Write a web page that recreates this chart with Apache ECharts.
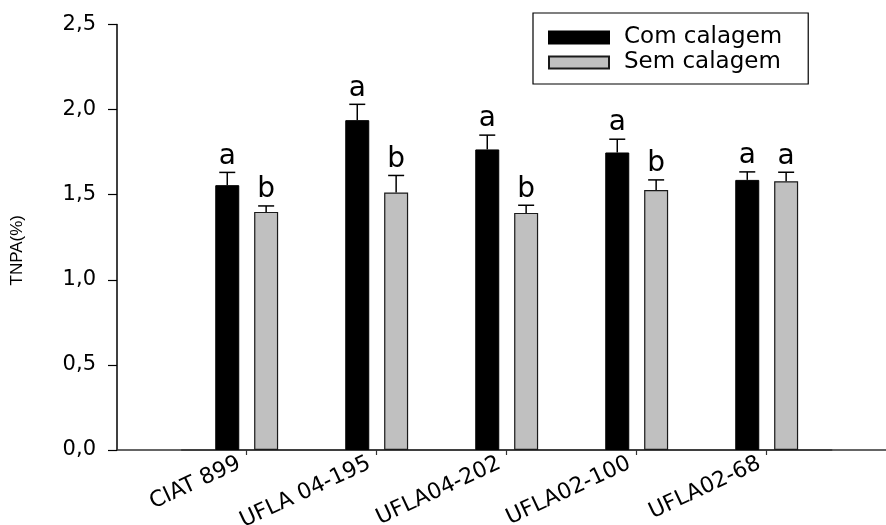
<!DOCTYPE html>
<html>
<head>
<meta charset="utf-8">
<script src="https://cdn.jsdelivr.net/npm/echarts@6/dist/echarts.min.js"></script>
<style>
  html, body { margin: 0; padding: 0; background: #fff; }
  #chart { width: 886px; height: 525px; }
</style>
</head>
<body>
<div id="chart"></div>
<script>
const categories = ['CIAT 899', 'UFLA 04-195', 'UFLA04-202', 'UFLA02-100', 'UFLA02-68'];
const comValues = [1.556, 1.938, 1.766, 1.748, 1.587];
const comErrors = [0.075, 0.093, 0.084, 0.078, 0.047];
const comLetters = ['a', 'a', 'a', 'a', 'a'];
const semValues = [1.399, 1.513, 1.393, 1.528, 1.579];
const semErrors = [0.035, 0.100, 0.045, 0.059, 0.053];
const semLetters = ['b', 'b', 'b', 'b', 'a'];
const yTicks = [0, 0.5, 1.0, 1.5, 2.0, 2.5];
const seriesNames = ['Com calagem', 'Sem calagem'];

const FONT = 'DejaVu Sans';
const BAR_W = 24;
const BAR_GAP = 0.62;
const OFFSET = (BAR_W + BAR_W * BAR_GAP) / 2;

function errSeries(values, errors, letters, sign) {
  return {
    type: 'custom',
    xAxisIndex: 1,
    yAxisIndex: 1,
    z: 10,
    silent: true,
    data: values.map((v, i) => [i, v, errors[i]]),
    renderItem: function (params, api) {
      const i = api.value(0), v = api.value(1), e = api.value(2);
      const base = api.coord([i, v]);
      const top = api.coord([i, v + e]);
      const x = base[0] + sign * OFFSET;
      const st = { stroke: '#000', lineWidth: 1.5 };
      return {
        type: 'group',
        children: [
          { type: 'line', shape: { x1: x, y1: base[1], x2: x, y2: top[1] }, style: st },
          { type: 'line', shape: { x1: x - 8, y1: top[1], x2: x + 8, y2: top[1] }, style: st },
          { type: 'text', x: x, y: top[1] - 2,
            style: { text: letters[i], fill: '#000', font: '28px "' + FONT + '"',
                     textAlign: 'center', textVerticalAlign: 'bottom' } }
        ]
      };
    }
  };
}

const chart = echarts.init(document.getElementById('chart'), null, { renderer: 'canvas' });
chart.setOption({
  animation: false,
  backgroundColor: '#fff',
  grid: [
    { left: 117, right: 0, top: 24.5, bottom: 75, containLabel: false, outerBoundsMode: 'none' },
    { left: 181.7, right: 54.3, top: 24.5, bottom: 75, containLabel: false, outerBoundsMode: 'none' }
  ],
  legend: {
    data: seriesNames,
    orient: 'vertical',
    left: 533,
    top: 13,
    padding: [13, 26, 10, 15],
    itemGap: 2,
    itemWidth: 60,
    itemHeight: 12,
    borderColor: '#000',
    borderWidth: 1.2,
    icon: 'rect',
    selectedMode: false,
    textStyle: { fontFamily: FONT, fontSize: 23, color: '#000', lineHeight: 20, padding: [0, 0, 0, 10] }
  },
  xAxis: [
    {
      type: 'value', gridIndex: 0, min: 0, max: 1,
      axisLine: { show: true, lineStyle: { color: '#333', width: 1.5 } },
      axisTick: { show: false }, axisLabel: { show: false }, splitLine: { show: false }
    },
    {
      type: 'category', gridIndex: 1, data: categories,
      axisLine: { show: true, lineStyle: { color: '#333', width: 1.5 } },
      axisTick: { show: true, alignWithLabel: true, length: 5, lineStyle: { color: '#333', width: 1.2 } },
      axisLabel: { rotate: 25, margin: 9, fontFamily: FONT, fontSize: 22, color: '#000', interval: 0,
                   padding: [0, 8, 0, 0] },
      splitLine: { show: false }
    }
  ],
  yAxis: [
    {
      type: 'value', gridIndex: 0, min: 0, max: 2.5, interval: 0.5,
      name: 'TNPA(%)', nameLocation: 'middle', nameGap: 91,
      nameTextStyle: { fontFamily: 'Liberation Sans', fontSize: 17, color: '#000', padding: [0, 26, 0, 0] },
      axisLine: { show: true, lineStyle: { color: '#000', width: 1.5 } },
      axisTick: { show: true, length: 9, lineStyle: { color: '#000', width: 1.2 } },
      axisLabel: {
        margin: 21, fontFamily: FONT, fontSize: 21, color: '#000',
        formatter: v => (yTicks.indexOf(v) >= 0 ? v.toFixed(1).replace('.', ',') : '')
      },
      splitLine: { show: false }
    },
    {
      type: 'value', gridIndex: 1, min: 0, max: 2.5, interval: 0.5, show: false
    }
  ],
  series: [
    {
      name: seriesNames[0], type: 'bar', xAxisIndex: 1, yAxisIndex: 1,
      data: comValues, barWidth: BAR_W, barGap: (BAR_GAP * 100) + '%',
      itemStyle: { color: '#000', borderColor: '#000', borderWidth: 1 }
    },
    {
      name: seriesNames[1], type: 'bar', xAxisIndex: 1, yAxisIndex: 1,
      data: semValues, barWidth: BAR_W, barGap: (BAR_GAP * 100) + '%',
      itemStyle: { color: '#c0c0c0', borderColor: '#1a1a1a', borderWidth: 1.2 }
    },
    errSeries(comValues, comErrors, comLetters, -1),
    errSeries(semValues, semErrors, semLetters, 1)
  ]
});
</script>
</body>
</html>
